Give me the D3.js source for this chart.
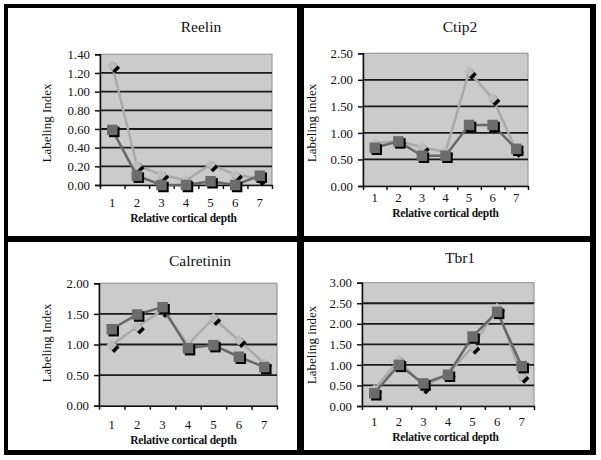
<!DOCTYPE html>
<html><head><meta charset="utf-8">
<script src="https://cdn.jsdelivr.net/npm/d3@7"></script>
<style>
html,body{margin:0;padding:0;background:#fff;}
svg text{font-family:"Liberation Serif","Times New Roman",Times,serif !important;fill:#111;}
</style></head>
<body>
<svg id="chart" width="601" height="460"></svg>
<script>
// ---- data ----
const depth = ["1","2","3","4","5","6","7"];
const titles = ["Reelin","Ctip2","Calretinin","Tbr1"];
const yTitles = ["Labeling Index","Labeling index","Labeling Index","Labeling index"];
const xTitle = "Relative cortical depth";

const reelinDiamond = [1.28,0.21,0.11,0.05,0.22,0.11,0.07];
const reelinSquare  = [0.59,0.10,0.00,0.00,0.04,0.00,0.10];
const ctip2Diamond  = [0.80,0.85,0.73,0.64,2.15,1.65,0.68];
const ctip2Square   = [0.72,0.84,0.57,0.57,1.15,1.15,0.70];
const calretDiamond = [0.99,1.29,1.56,1.00,1.43,1.07,0.69];
const calretSquare  = [1.25,1.49,1.61,0.94,0.99,0.80,0.63];
const tbr1Diamond   = [0.40,1.12,0.47,0.78,1.44,2.38,0.73];
const tbr1Square    = [0.31,1.00,0.55,0.76,1.69,2.29,0.97];

const reelinTicks = [0,0.2,0.4,0.6,0.8,1.0,1.2,1.4];
const ctip2Ticks  = [0,0.5,1.0,1.5,2.0,2.5];
const calretTicks = [0,0.5,1.0,1.5,2.0];
const tbr1Ticks   = [0,0.5,1.0,1.5,2.0,2.5,3.0];

// ---- layout ----
const layouts = [
  {x0:100,x1:272,y0:54.3,y1:185,  tx:201,ty:32,  yx:51, yy:123, cy:207, xx:183.5, xy:222},
  {x0:363,x1:528,y0:53.3,y1:186,  tx:460,ty:32,  yx:316,yy:123, cy:202, xx:445.5, xy:216.5},
  {x0:99, x1:277,y0:283.3,y1:405.7,tx:200,ty:265.5,yx:51,yy:343,cy:429, xx:183.5, xy:443.5},
  {x0:362,x1:534,y0:282.7,y1:406, tx:460,ty:263, yx:316,yy:345, cy:426, xx:445.5, xy:441}
];
const panels = [
  {diamond:reelinDiamond, square:reelinSquare, ticks:reelinTicks},
  {diamond:ctip2Diamond,  square:ctip2Square,  ticks:ctip2Ticks},
  {diamond:calretDiamond, square:calretSquare, ticks:calretTicks},
  {diamond:tbr1Diamond,   square:tbr1Square,   ticks:tbr1Ticks}
];

const svg = d3.select("#chart");
// frame
svg.append("rect").attr("x",4).attr("y",4).attr("width",592).attr("height",451).attr("fill","#000");
const cells = [[8,8,289,228],[304,8,286,228],[8,242,289,208],[304,242,286,208]];
cells.forEach(c=>svg.append("rect").attr("x",c[0]).attr("y",c[1]).attr("width",c[2]).attr("height",c[3]).attr("fill","#fff"));

const diamondSym = d3.symbol().type(d3.symbolDiamond2 || d3.symbolDiamond).size(72);
const squareSym = d3.symbol().type(d3.symbolSquare).size(110);

panels.forEach((p,i)=>{
  const L = layouts[i];
  const g = svg.append("g");
  const x = d3.scaleBand().domain(depth).range([L.x0,L.x1]).padding(0);
  const y = d3.scaleLinear().domain([0,d3.max(p.ticks)]).range([L.y1,L.y0]);
  // background
  g.append("rect").attr("x",L.x0).attr("y",L.y0).attr("width",L.x1-L.x0).attr("height",L.y1-L.y0)
    .attr("fill","#cbcbcb").attr("stroke","#9a9a9a").attr("stroke-width",1.2);
  // gridlines
  g.selectAll(".grid").data(p.ticks.filter(t=>t>0 && t<d3.max(p.ticks))).enter().append("line")
    .attr("x1",L.x0).attr("x2",L.x1).attr("y1",d=>y(d)).attr("y2",d=>y(d))
    .attr("stroke","#1a1a1a").attr("stroke-width",1.8);
  // y axis
  const ya = g.append("g").attr("transform",`translate(${L.x0},0)`)
    .call(d3.axisLeft(y).tickValues(p.ticks).tickFormat(d3.format(".2f")).tickSize(5).tickPadding(5));
  ya.attr("font-family",null);
  ya.select(".domain").attr("stroke","#111").attr("stroke-width",1.5);
  ya.selectAll(".tick line").attr("stroke","#111").attr("stroke-width",1.5);
  ya.selectAll("text").attr("font-size",12.8);
  // x axis: boundary ticks
  const xb = d3.scaleLinear().domain([0,depth.length]).range([L.x0,L.x1]);
  const xa = g.append("g").attr("transform",`translate(0,${L.y1})`)
    .call(d3.axisBottom(xb).tickValues(d3.range(depth.length+1)).tickFormat("").tickSize(4).tickSizeOuter(0));
  xa.select(".domain").attr("stroke","#111").attr("stroke-width",1.5);
  xa.selectAll(".tick line").attr("stroke","#111").attr("stroke-width",1.5);
  // category labels
  g.selectAll(".cat").data(depth).enter().append("text")
    .attr("x",d=>x(d)+x.bandwidth()/2).attr("y",L.cy).attr("text-anchor","middle")
    .attr("font-size",12.8).text(d=>d);
  // titles
  g.append("text").attr("x",L.tx).attr("y",L.ty).attr("text-anchor","middle").attr("font-size",15.5).text(titles[i]);
  g.append("text").attr("transform",`translate(${L.yx},${L.yy}) rotate(-90)`).attr("text-anchor","middle")
    .attr("font-size",13).text(yTitles[i]);
  g.append("text").attr("x",L.xx).attr("y",L.xy).attr("text-anchor","middle").attr("font-size",11.5)
    .attr("font-weight","bold").attr("letter-spacing",-0.2).text(xTitle);

  const cx = d=>x(d)+x.bandwidth()/2;
  const line = d3.line().x((d,j)=>cx(depth[j])).y(d=>y(d));
  // diamond series
  g.append("path").datum(p.diamond).attr("d",line).attr("fill","none").attr("stroke","#aaaaaa").attr("stroke-width",2.5);
  g.selectAll(".dsh").data(p.diamond).enter().append("path").attr("d",diamondSym)
    .attr("transform",(d,j)=>`translate(${cx(depth[j])+2.5},${y(d)+2.5})`).attr("fill","#000");
  g.selectAll(".dm").data(p.diamond).enter().append("path").attr("d",diamondSym)
    .attr("transform",(d,j)=>`translate(${cx(depth[j])},${y(d)})`).attr("fill","#bdbdbd");
  // square series
  g.append("path").datum(p.square).attr("d",line).attr("fill","none").attr("stroke","#686868").attr("stroke-width",2.5);
  g.selectAll(".ssh").data(p.square).enter().append("path").attr("d",squareSym)
    .attr("transform",(d,j)=>`translate(${cx(depth[j])+2},${y(d)+2})`).attr("fill","#000");
  g.selectAll(".sq").data(p.square).enter().append("path").attr("d",squareSym)
    .attr("transform",(d,j)=>`translate(${cx(depth[j])},${y(d)})`).attr("fill","#6c6c6c");
});
</script>
</body></html>
